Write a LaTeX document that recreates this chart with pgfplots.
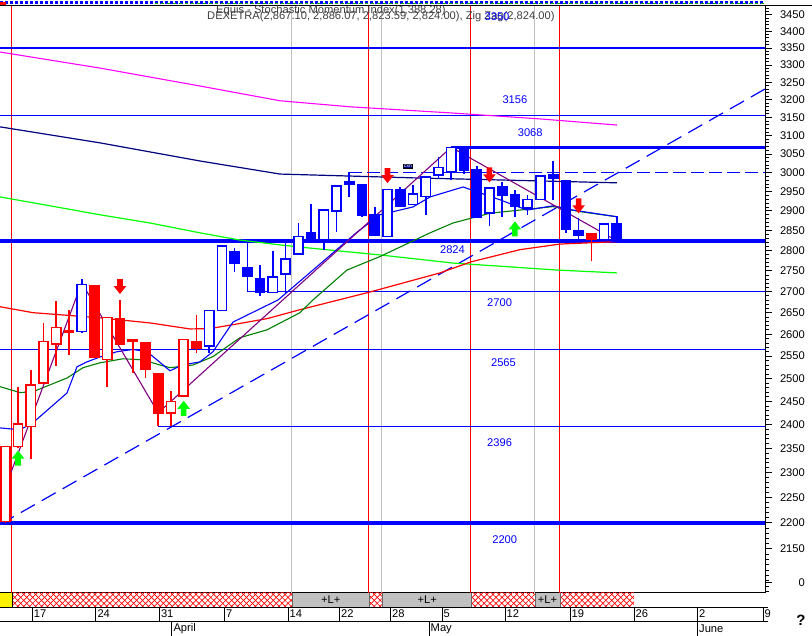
\documentclass[border=0pt]{standalone}
\usepackage{fontspec}
\setmainfont{Liberation Sans}
\usepackage{pgfplots}
\usepackage{pgfplotstable}
\pgfplotsset{compat=1.18}
\usetikzlibrary{patterns.meta}

\definecolor{R}{RGB}{255,0,0}
\definecolor{B}{RGB}{0,0,255}
\definecolor{navyc}{RGB}{0,0,128}
\definecolor{dgreen}{RGB}{0,128,0}
\definecolor{lgreen}{RGB}{0,255,0}
\definecolor{purp}{RGB}{128,0,128}
\definecolor{magc}{RGB}{255,0,255}
\definecolor{ggray}{RGB}{192,192,192}
\definecolor{hdr}{RGB}{64,64,64}

\pgfdeclareplotmark{dnarrow}{%
  \pgfpathmoveto{\pgfpoint{-2.8bp}{7.5bp}}%
  \pgfpathlineto{\pgfpoint{2.8bp}{7.5bp}}%
  \pgfpathlineto{\pgfpoint{2.8bp}{0.5bp}}%
  \pgfpathlineto{\pgfpoint{6.3bp}{0.5bp}}%
  \pgfpathlineto{\pgfpoint{0bp}{-7.5bp}}%
  \pgfpathlineto{\pgfpoint{-6.3bp}{0.5bp}}%
  \pgfpathlineto{\pgfpoint{-2.8bp}{0.5bp}}%
  \pgfpathclose\pgfusepathqfill}
\pgfdeclareplotmark{uparrow}{%
  \pgfpathmoveto{\pgfpoint{-2.8bp}{-7.5bp}}%
  \pgfpathlineto{\pgfpoint{2.8bp}{-7.5bp}}%
  \pgfpathlineto{\pgfpoint{2.8bp}{-0.5bp}}%
  \pgfpathlineto{\pgfpoint{6.3bp}{-0.5bp}}%
  \pgfpathlineto{\pgfpoint{0bp}{7.5bp}}%
  \pgfpathlineto{\pgfpoint{-6.3bp}{-0.5bp}}%
  \pgfpathlineto{\pgfpoint{-2.8bp}{-0.5bp}}%
  \pgfpathclose\pgfusepathqfill}

\pgfplotstableread{
d o h l c col fil
-2 2203 2354 2200 2354 R 0
-1 2354 2482 2350 2401 R 0
0 2396 2519 2327 2486 R 0
1 2490 2626 2488 2583 R 0
2 2578 2677 2527 2615 R 0
3 2604 2657 2553 2607 R 0
4 2606 2731 2603 2717 B 0
5 2713 2713 2547 2547 R 1
6 2542 2639 2482 2639 R 0
7 2636 2681 2578 2578 R 1
8 2587 2589 2513 2583 R 1
9 2580 2580 2501 2521 R 1
10 2510 2510 2398 2425 R 1
11 2425 2472 2396 2450 R 0
12 2462 2588 2462 2588 R 0
13 2582 2645 2558 2567 R 1
14 2573 2655 2558 2655 B 0
15 2655 2811 2655 2811 B 0
16 2797 2807 2746 2769 B 1
17 2757 2818 2698 2737 B 1
18 2731 2765 2689 2698 B 1
19 2698 2799 2698 2735 B 0
20 2743 2822 2697 2779 B 0
21 2792 2869 2792 2835 B 0
22 2845 2918 2826 2826 B 1
23 2826 2902 2801 2902 B 0
24 2900 2965 2847 2965 B 0
25 2969 3002 2935 2975 B 0
26 2968 2968 2885 2890 B 1
27 2891 2909 2839 2839 B 1
28 2835 2956 2835 2956 B 0
29 2956 2962 2911 2911 B 1
30 2916 2968 2916 2944 B 0
31 2937 2988 2890 2988 B 0
32 2994 3042 2983 3014 B 0
33 3002 3068 2981 3068 B 0
34 3068 3068 2997 3007 B 1
35 3007 3018 2885 2885 B 1
36 2894 2959 2862 2959 B 0
37 2962 2974 2885 2940 B 1
38 2942 2955 2885 2911 B 1
39 2907 2942 2890 2929 B 0
40 2929 2991 2929 2991 B 0
41 2993 3030 2929 2986 B 1
42 2978 2978 2844 2854 B 1
43 2849 2881 2827 2839 B 1
44 2842 2842 2773 2827 R 1
45 2827 2867 2827 2867 B 0
46 2867.10 2886.07 2823.59 2824.00 B 1
}\candles

\newcommand\lbl{\fontsize{11.2}{12}\selectfont}

\begin{document}
\begin{tikzpicture}[x=1bp,y=1bp]
\path[use as bounding box, fill=white] (0,0) rectangle (812,636);
\begin{axis}[
  at={(0bp,43bp)}, anchor=south west,
  width=765bp, height=587bp, scale only axis,
  xmin=-2.416, xmax=57.63,
  ymode=log, ymin=2067.8, ymax=3477,
  axis x line*=bottom, axis y line*=right,
  xtick=\empty,
  ytick={2086.2,2150,2200,2250,2300,2350,2400,2450,2500,2550,2600,2650,2700,2750,2800,2850,2900,2950,3000,3050,3100,3150,3200,3250,3300,3350,3400,3450},
  yticklabels={0,2150,2200,2250,2300,2350,2400,2450,2500,2550,2600,2650,2700,2750,2800,2850,2900,2950,3000,3050,3100,3150,3200,3250,3300,3350,3400,3450},
  minor ytick={2070,2080,...,3470},
  tick align=outside,
  major tick length=7bp, minor tick length=4bp,
  tick style={black, line width=0.8bp},
  yticklabel style={font=\lbl, anchor=east, xshift=33bp, inner sep=0pt},
  axis line style={black, line width=1bp},
  clip=false,
]
% vertical separators
\addplot[R, line width=1bp] coordinates {(-1.5,2067.8) (-1.5,3477)};
\addplot[R, line width=1bp] coordinates {(26.5,2067.8) (26.5,3477)};
\addplot[R, line width=1bp] coordinates {(34.5,2067.8) (34.5,3477)};
\addplot[R, line width=1bp] coordinates {(41.5,2067.8) (41.5,3477)};
\addplot[ggray, line width=1bp] coordinates {(20.5,2067.8) (20.5,3477)};
\addplot[ggray, line width=1bp] coordinates {(27.5,2067.8) (27.5,3477)};
\addplot[ggray, line width=1bp] coordinates {(39.5,2067.8) (39.5,3477)};
% levels
\addplot[B, line width=2.5bp] coordinates {(-2.416,3350) (57.63,3350)};
\addplot[B, line width=1.2bp] coordinates {(-2.416,3156) (57.63,3156)};
\addplot[B, line width=3.5bp] coordinates {(33,3068) (57.63,3068)};
\addplot[B, line width=1.3bp, dash pattern=on 13bp off 5bp] coordinates {(25,3000) (57.63,3000)};
\addplot[B, line width=3.8bp] coordinates {(-2.416,2824) (57.63,2824)};
\addplot[B, line width=1.2bp] coordinates {(17,2700) (57.63,2700)};
\addplot[B, line width=1.2bp] coordinates {(-2.416,2565) (57.63,2565)};
\addplot[B, line width=1.2bp] coordinates {(10,2396) (57.63,2396)};
\addplot[B, line width=3.8bp] coordinates {(-2.416,2200) (57.63,2200)};
% trend line
\addplot[B, line width=1.2bp, dash pattern=on 16bp off 8bp] coordinates {(-2.416,2197) (57.63,3230.5)};
% moving averages
\addplot[magc, line width=1.1bp] coordinates {(-2.42,3338) (5.43,3291) (13.28,3239) (19.56,3197) (25.06,3180) (32.91,3163) (39.97,3146) (46.01,3129)};
\addplot[navyc, line width=1.2bp] coordinates {(-2.42,3124) (5.43,3080) (13.28,3031) (19.56,2996) (29.98,2986) (46.01,2973)};
\addplot[lgreen, line width=1.2bp] coordinates {(-2.42,2936) (1.51,2913) (5.43,2890) (9.36,2869) (13.28,2844) (16.42,2826) (19.56,2814) (21.92,2806) (27.41,2789) (33.14,2769) (41.3,2752) (46.01,2745)};
\addplot[R, line width=1.2bp] coordinates {(-2.42,2664) (0.17,2650) (5.43,2638) (9.36,2626) (12.5,2612) (14.07,2613) (15.87,2622) (18.54,2636) (21.13,2657) (26.63,2699) (32.12,2745) (34.56,2772) (38.4,2802) (41.54,2816) (46.01,2822)};
\addplot[dgreen, line width=1.1bp] coordinates {(-2.42,2482) (-0.85,2469) (0.17,2471) (2.84,2501) (4.1,2524) (5.43,2535) (7.24,2544) (8.81,2541.5) (10.14,2530) (10.93,2524) (12.73,2530) (14.3,2549) (16.42,2592) (18.54,2610) (21.13,2650) (22.15,2680) (24.82,2752) (27.41,2785) (31.34,2844) (33.14,2869) (36.05,2894) (40.99,2911) (43.11,2898) (46.01,2885)};
\addplot[B, line width=1.1bp] coordinates {(-2.42,2393) (-0.85,2389) (0.17,2404) (2.84,2468) (3.63,2526) (4.41,2537) (5.43,2548) (6.77,2560) (8.02,2565) (9.12,2560) (9.91,2541.5) (10.93,2517) (11.87,2530) (13.28,2537) (14.3,2560) (15.87,2628) (19.41,2680) (22.15,2752) (25.61,2846) (27.41,2890) (30.0,2910) (31.34,2936) (33.93,2962) (36.83,2928.5) (38.95,2902) (40.99,2913) (42.56,2902) (46.01,2885)};
\addplot[purp, line width=1.1bp] coordinates {(-2.42,2241) (4,2721) (10,2425) (33,3068) (46,2824)};
% candles
\pgfplotstablegetrowsof{\candles}
\pgfmathtruncatemacro{\lastrow}{\pgfplotsretval-1}
\pgfplotsforeachungrouped \i in {0,...,\lastrow}{%
  \pgfplotstablegetelem{\i}{d}\of\candles \let\cd\pgfplotsretval
  \pgfplotstablegetelem{\i}{o}\of\candles \let\co\pgfplotsretval
  \pgfplotstablegetelem{\i}{h}\of\candles \let\ch\pgfplotsretval
  \pgfplotstablegetelem{\i}{l}\of\candles \let\cl\pgfplotsretval
  \pgfplotstablegetelem{\i}{c}\of\candles \let\cc\pgfplotsretval
  \pgfplotstablegetelem{\i}{col}\of\candles \let\ccol\pgfplotsretval
  \pgfplotstablegetelem{\i}{fil}\of\candles \let\cfil\pgfplotsretval
  \pgfmathsetmacro{\xa}{\cd-0.36}%
  \pgfmathsetmacro{\xb}{\cd+0.36}%
  \ifnum\cfil=1 \edef\fc{\ccol}\else\def\fc{white}\fi
  \edef\temp{\noexpand\addplot[draw=\ccol, line width=1.6bp, forget plot] coordinates {(\cd,\cl) (\cd,\ch)};
    \noexpand\addplot[draw=\ccol, fill=\fc, line width=1.6bp, forget plot] coordinates {(\xa,\co) (\xb,\co) (\xb,\cc) (\xa,\cc)} -- cycle;}%
  \temp
}
% arrows
\addplot[only marks, mark=dnarrow, color=R] coordinates {(7,2712) (28,2992) (36,2994) (43,2913)};
\addplot[only marks, mark=uparrow, color=lgreen] coordinates {(-1,2330) (12,2435) (38,2854)};
% level labels
\node[B, font=\lbl] at (axis cs:38.0,3199) {3156};
\node[B, font=\lbl] at (axis cs:39.2,3107) {3068};
\node[B, font=\lbl] at (axis cs:33.1,2801) {2824};
\node[B, font=\lbl] at (axis cs:36.8,2673) {2700};
\node[B, font=\lbl] at (axis cs:37.1,2535) {2565};
\node[B, font=\lbl] at (axis cs:36.8,2361) {2396};
\node[B, font=\lbl] at (axis cs:37.2,2167) {2200};
\node[fill=navyc, text=white, draw=black, inner sep=0.6bp, font=\fontsize{5}{5}\selectfont] at (axis cs:29.6,3018) {cxn};
\end{axis}
% top strip
\draw[B, line width=3bp, dash pattern=on 3bp off 2bp] (0,633.5) -- (765,633.5);
\draw[lgreen!70!black, line width=1.5bp, dash pattern=on 3bp off 3bp] (155,632.5) -- (765,632.5);
\fill[R] (0,631) rectangle (6,634);
\draw[black, line width=1bp] (0,630) -- (812,630);
% header texts
\node[anchor=west, text=hdr, font=\lbl, inner sep=0pt] at (216,625) {Equis - Stochastic Momentum Index(1,388.28)};
\node[anchor=west, text=hdr, font=\lbl, inner sep=0pt] at (207,619) {DEXETRA(2,867.10, 2,886.07, 2,823.59, 2,824.00), Zig Zag(2,824.00)};
\node[B, font=\lbl, inner sep=0pt] at (497,619) {3350};
% bottom strip
\fill[yellow] (0,29) rectangle (12,43);
\foreach \a/\b in {12/292.3, 369.3/382.7, 471.7/535, 560/634}{
  \fill[pattern={Lines[angle=45,distance=4.2bp,line width=0.7bp]}, pattern color=R] (\a,29) rectangle (\b,43);
  \fill[pattern={Lines[angle=-45,distance=4.2bp,line width=0.7bp]}, pattern color=R] (\a,29) rectangle (\b,43);
}
\foreach \a/\b in {292.3/369.3, 382.7/471.7, 535/560}{
  \fill[ggray] (\a,29) rectangle (\b,43);
  \draw[black!60, line width=0.6bp] (\a,29) -- (\a,43) (\b,29) -- (\b,43);
  \node[font=\lbl, inner sep=0pt] at ({(\a+\b)/2},36) {+L+};
}
\draw[black, line width=0.8bp] (0,29) -- (768,29);
\draw[black, line width=0.8bp] (0,15) -- (768,15);
\draw[black, line width=0.8bp] (12,29) -- (12,43);
% date row
\foreach \x/\t in {32.3/17, 95.8/24, 159.3/31, 224.4/7, 287.9/14, 339.4/22, 390.4/28, 442/5, 505/12, 570/19, 634/26, 697.5/2, 763/9}{
  \draw[black, line width=0.8bp] (\x,29) -- (\x,15);
  \node[anchor=west, font=\lbl, inner sep=0pt] at (\x+1.5,22) {\t};
}
\foreach \x/\t in {171.8/April, 429/May, 697.5/June}{
  \draw[black, line width=0.8bp] (\x,15) -- (\x,0);
  \node[anchor=west, font=\lbl, inner sep=0pt] at (\x+1.5,7.5) {\t};
}
\node[font=\fontsize{15}{15}\selectfont\bfseries] at (801,16) {?};
\end{tikzpicture}
\end{document}
